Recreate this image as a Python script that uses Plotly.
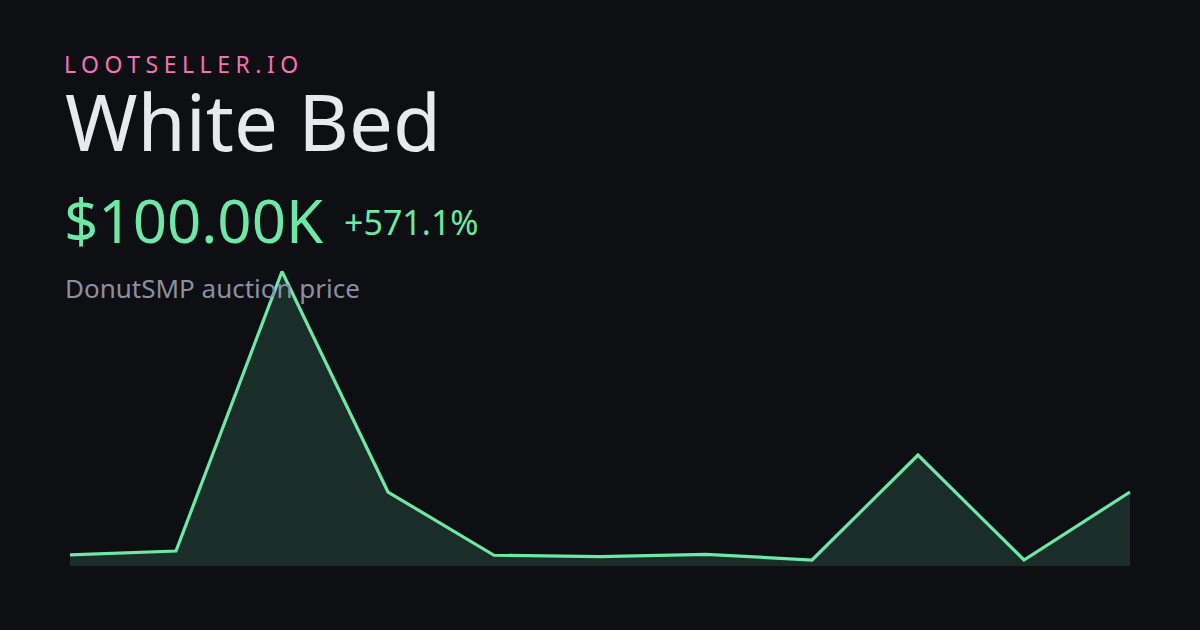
import plotly.graph_objects as go

# ---- data ----
periods = list(range(11))
prices_k = [14.9, 20.3, 398.0, 100.0, 14.5, 12.6, 15.8, 8.1, 150.0, 8.1, 100.0]
brand = "LOOTSELLER.IO"
item_name = "White Bed"
price_label = "$100.00K"
change_label = "+571.1%"
caption = "DonutSMP auction price"

W, H = 1200, 630
BG = "#0d0f13"
GREEN = "#6ee7a7"
FONT = "Noto Sans, Open Sans, sans-serif"

def px_x(v):
    return v / W

def px_y(v):
    return 1 - v / H

# chart area in pixels (line spans 70..1130, baseline 566, peak ~271.5)
x_left, x_right = 70, 1130
y_base, y_peak, y_top = 566, 271.5, 250
pad = 10
n = len(prices_k) - 1
step = (x_right - x_left) / n
ymax = max(prices_k)
y_range_top = ymax * (y_base - y_top) / (y_base - y_peak)

fig = go.Figure()
fig.add_trace(go.Scatter(
    x=periods, y=prices_k, mode="lines",
    line=dict(color=GREEN, width=3.2, shape="linear"),
    fill="tozeroy", fillcolor="rgba(110,231,167,0.14)",
    hoverinfo="skip", showlegend=False,
))

fig.update_layout(
    width=W, height=H,
    paper_bgcolor=BG, plot_bgcolor=BG,
    margin=dict(l=0, r=0, t=0, b=0),
    xaxis=dict(domain=[px_x(x_left - pad), px_x(x_right + pad)],
               range=[-pad / step, n + pad / step],
               visible=False, showgrid=False, zeroline=False, fixedrange=True),
    yaxis=dict(domain=[px_y(y_base), px_y(y_top)],
               range=[0, y_range_top],
               visible=False, showgrid=False, zeroline=False, fixedrange=True),
    font=dict(family=FONT),
)

def ann(text, x, y, size, color, height=None):
    fig.add_annotation(text=text, x=px_x(x), y=px_y(y), xref="paper", yref="paper",
                       xanchor="left", yanchor="middle", align="left", valign="middle",
                       showarrow=False, height=height,
                       font=dict(size=size, color=color, family=FONT),
                       borderpad=0)

ann(brand, 63, 64, 23, "#f472b6")
ann(item_name, 64, 121, 78, "#e8e9ef", height=72)
ann(price_label, 63, 220, 60, GREEN)
ann(change_label, 343, 222, 34, GREEN)
ann(caption, 64, 288, 26, "#8b8fa2")

post = """
document.body.style.margin='0';
document.documentElement.style.background='%s';
var gd=document.getElementById('{plot_id}');
gd.querySelectorAll('.annotation-text').forEach(function(t){
  if(t.textContent==='%s'){ t.style.letterSpacing='5.5px'; }
});
""" % (BG, brand)

fig.write_html("out.html", post_script=post, config={"displayModeBar": False, "staticPlot": True})
